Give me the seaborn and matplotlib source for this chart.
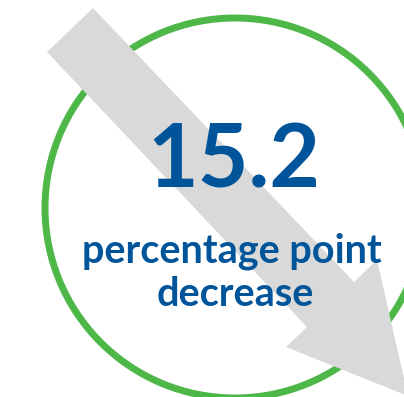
import matplotlib
matplotlib.use("Agg")
import matplotlib.pyplot as plt
import seaborn as sns
from matplotlib.patches import Circle, Polygon

# ---- data ----
value_text = ["15.2"]
label_lines = ["percentage point", "decrease"]

sns.set_theme(style="white")
plt.rcParams['font.family'] = ['Lato', 'DejaVu Sans']

W, H = 404, 397
fig = plt.figure(figsize=(W / 100, H / 100), dpi=100)
ax = fig.add_axes([0, 0, 1, 1])
ax.set_xlim(0, W)
ax.set_ylim(H, 0)
ax.set_aspect('equal')
ax.axis('off')

GREEN = "#4DB848"
GRAY = "#D9D9D9"
BLUE = "#00559A"

ax.add_patch(Circle((235, 208), 190, fill=False, edgecolor=GREEN, linewidth=5.0, zorder=1))

arrow_pts = [(47, 52), (93, 8), (354, 282), (377, 260), (408, 396), (286, 347), (307, 327)]
ax.add_patch(Polygon(arrow_pts, closed=True, facecolor=GRAY, edgecolor='none', zorder=2))

ax.text(234, 188, value_text[0], ha='center', va='baseline', fontsize=63,
        fontweight='bold', color=BLUE, zorder=3)
ax.text(232, 262, label_lines[0], ha='center', va='baseline', fontsize=28.5,
        fontweight='bold', color=BLUE, zorder=3)
ax.text(235, 306, label_lines[1], ha='center', va='baseline', fontsize=28.5,
        fontweight='bold', color=BLUE, zorder=3)

fig.savefig("out.png", dpi=100)
